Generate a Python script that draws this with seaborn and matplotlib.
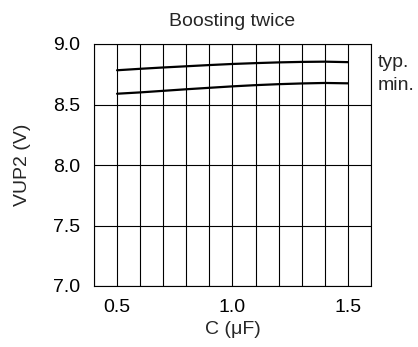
import matplotlib
matplotlib.use("Agg")
import matplotlib.pyplot as plt
import seaborn as sns
import pandas as pd

C = [0.5, 0.6, 0.7, 0.8, 0.9, 1.0, 1.1, 1.2, 1.3, 1.4, 1.5]
typ = [8.783, 8.795, 8.806, 8.816, 8.826, 8.835, 8.842, 8.848, 8.852, 8.854, 8.850]
vmin = [8.589, 8.600, 8.613, 8.626, 8.638, 8.650, 8.660, 8.668, 8.674, 8.678, 8.675]
x_ticks = [0.5, 1.0, 1.5]
y_ticks = [7.0, 7.5, 8.0, 8.5, 9.0]

sns.set_style("white")
plt.rcParams['font.family'] = ['Liberation Sans', 'DejaVu Sans']

df = pd.DataFrame({"C": C * 2, "V": typ + vmin,
                   "s": ["typ."] * len(C) + ["min."] * len(C)})

fig = plt.figure(figsize=(4.18, 3.47), dpi=100)
ax = fig.add_axes([94 / 418, 1 - 286 / 347, 277 / 418, 242 / 347])

for i in range(4, 17):
    ax.axvline(i / 10, color="black", lw=0.8, zorder=1)
for y in y_ticks:
    ax.axhline(y, color="black", lw=0.8, zorder=1)

sns.lineplot(data=df, x="C", y="V", units="s", estimator=None,
             color="black", lw=1.6, ax=ax, legend=False, zorder=3)

FS = 14
ax.set_xlim(0.4, 1.6)
ax.set_ylim(7.0, 9.0)
ax.set_xticks(x_ticks)
ax.set_xticklabels([f"{v:.1f}" for v in x_ticks])
ax.set_yticks(y_ticks)
ax.set_yticklabels([f"{v:.1f}" for v in y_ticks])
ax.tick_params(length=0, labelsize=FS, colors="black")
ax.tick_params(axis="x", pad=9)
ax.tick_params(axis="y", pad=10)
for s in ax.spines.values():
    s.set_color("black")
    s.set_linewidth(0.8)

ax.set_xlabel("C (μF)", fontsize=FS, labelpad=4)
ax.set_ylabel("VUP2 (V)", fontsize=FS, labelpad=16)
ax.set_title("Boosting twice", fontsize=FS, pad=13)

ax.text(1.63, 8.85, "typ.", fontsize=FS, va="center", ha="left", clip_on=False)
ax.text(1.63, 8.66, "min.", fontsize=FS, va="center", ha="left", clip_on=False)

fig.savefig("out.png", dpi=100)
